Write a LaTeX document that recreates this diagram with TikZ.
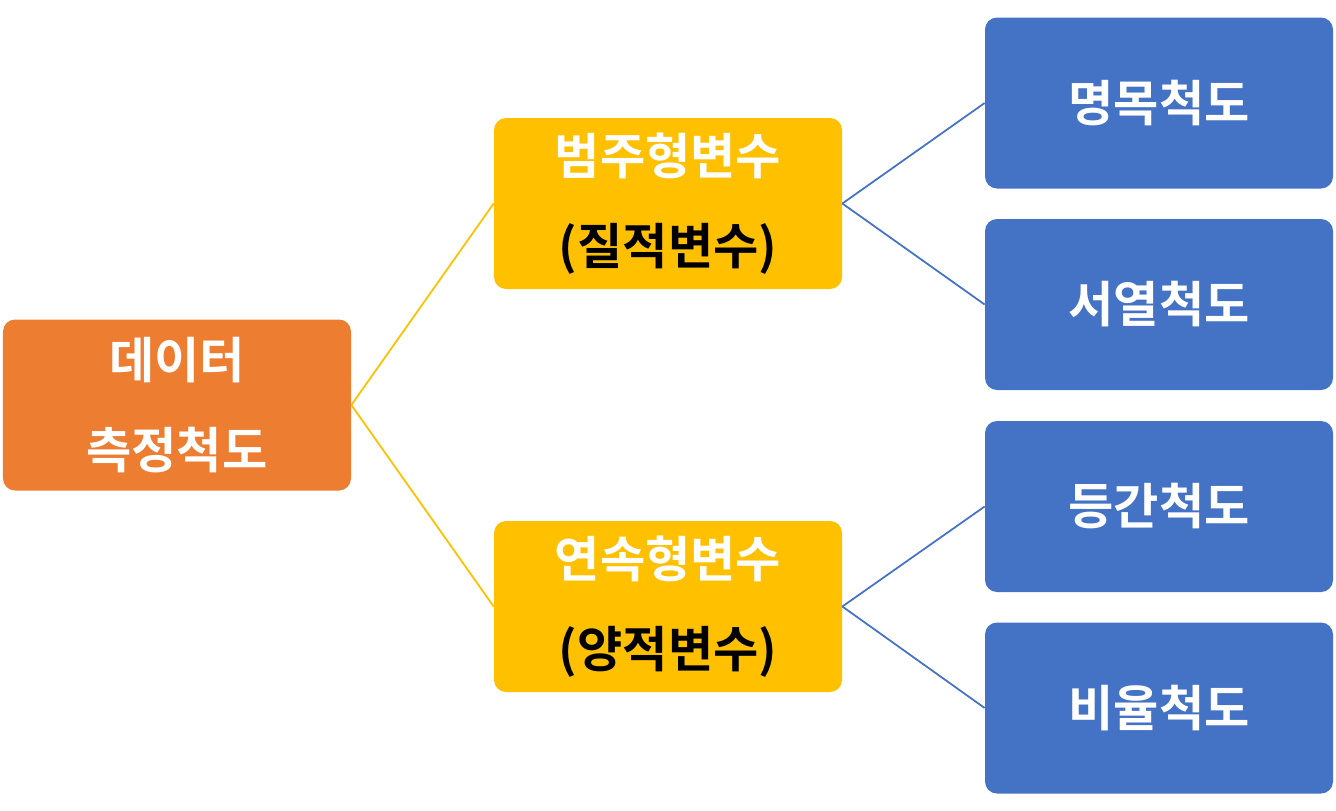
\documentclass[tikz,border=0pt]{standalone}
\usepackage{fontspec}
\setmainfont{Noto Sans CJK KR}[BoldFont={Noto Sans CJK KR Bold}]
\usepackage{xcolor}
\usetikzlibrary{positioning}
\definecolor{rootorange}{HTML}{ED7D31}
\definecolor{midyellow}{HTML}{FFC000}
\definecolor{leafblue}{HTML}{4472C4}

\begin{document}
\begin{tikzpicture}[node distance=2cm, on grid,
    box/.style={rounded corners=0.24cm, minimum width=6.96cm, minimum height=3.42cm,
        inner sep=0pt, align=center, text=white,
        font=\bfseries\fontsize{28}{51}\selectfont},
    rootbox/.style={box, fill=rootorange},
    varbox/.style={box, fill=midyellow},
    scalebox/.style={box, fill=leafblue},
    link/.style={line width=1pt}]
        \useasboundingbox (0,0) rectangle (26.72,-16.22);
        \node[rootbox] (root) at (3.54,-8.1) {데이터\\측정척도};
        \node[varbox, above right=4.03cm and 9.82cm of root] (cat) {범주형변수\\{\color{black}(질적변수)}};
        \node[varbox, below right=4.03cm and 9.82cm of root] (cont) {연속형변수\\{\color{black}(양적변수)}};
        \node[scalebox, above right=2.01cm and 9.82cm of cat] (nom) {명목척도};
        \node[scalebox, below right=2.02cm and 9.82cm of cat] (ord) {서열척도};
        \node[scalebox, above right=2.0cm and 9.82cm of cont] (intv) {등간척도};
        \node[scalebox, below right=2.03cm and 9.82cm of cont] (rat) {비율척도};

        \draw[link, midyellow] (root.east) -- (cat.west);
        \draw[link, midyellow] (root.east) -- (cont.west);
        \draw[link, leafblue] (cat.east) -- (nom.west);
        \draw[link, leafblue] (cat.east) -- (ord.west);
        \draw[link, leafblue] (cont.east) -- (intv.west);
        \draw[link, leafblue] (cont.east) -- (rat.west);
    \end{tikzpicture}
\end{document}
